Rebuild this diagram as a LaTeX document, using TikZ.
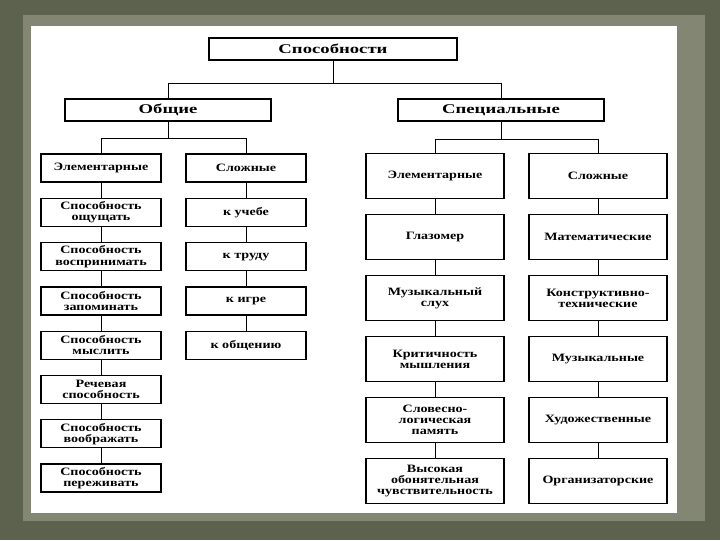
\documentclass[tikz,border=0pt]{standalone}
\usepackage{fontspec}
\setmainfont{Liberation Serif}
\newfontfamily\headfont[FakeStretch=1.4]{Liberation Serif}
\newfontfamily\boxfont[FakeStretch=1.25]{Liberation Serif}
\usetikzlibrary{calc}
\definecolor{bgolive}{RGB}{92,98,78}
\definecolor{bandolive}{RGB}{130,134,114}

\begin{document}
\begin{tikzpicture}[x=0.025cm, y=-0.025cm,
  box/.style={draw, line width=0.9pt, fill=white, align=center, inner sep=1pt,
    font=\boxfont\bfseries\fontsize{8}{8}\selectfont},
  lbox/.style={box, minimum width=3cm, minimum height=0.7cm},
  rbox/.style={box, minimum width=3.45cm, minimum height=1.12cm},
  head/.style={box, minimum height=0.55cm,
    font=\headfont\bfseries\fontsize{9.5}{10}\selectfont},
  link/.style={line width=0.6pt}]
  % --- background and page ---
  \fill[bgolive] (0,0) rectangle (720,540);
  \fill[bandolive] (23,15) rectangle (705,521);
  \fill[white] (31,26) rectangle (677,513);
  \useasboundingbox (0,0) rectangle (720,540);
  % --- top levels ---
  \node[head, minimum width=6.2cm]  (root) at (333,49)  {Способности};
  \node[head, minimum width=5.15cm] (gen)  at (168,110) {Общие};
  \node[head, minimum width=5.15cm] (spec) at (501,110) {Специальные};
  \draw[link] (root.south) -- ++(0,23) coordinate (rj) -| (gen.north);
  \draw[link] (rj) -| (spec.north);
  % --- general abilities ---
  \node[lbox] (le0) at (101,168) {Элементарные};
  \node[lbox] (lc0) at (246,168) {Сложные};
  \draw[link] (gen.south) -- ++(0,17) coordinate (gj) -| (le0.north);
  \draw[link] (gj) -| (lc0.north);
  \foreach \t [count=\i] in {{Способность\\ощущать},{Способность\\воспринимать},
      {Способность\\запоминать},{Способность\\мыслить},{Речевая\\способность},
      {Способность\\воображать},{Способность\\переживать}}
    \node[lbox] (le\i) at (101,168+44.3*\i) {\t};
  \foreach \t [count=\i] in {к учебе,к труду,к игре,к общению}
    \node[lbox] (lc\i) at (246,168+44.3*\i) {\t};
  % --- special abilities ---
  \node[rbox] (re0) at (435,176) {Элементарные};
  \node[rbox] (rc0) at (598,176) {Сложные};
  \draw[link] (spec.south) -- ++(0,18) coordinate (sj) -| (re0.north);
  \draw[link] (sj) -| (rc0.north);
  \foreach \t [count=\i] in {Глазомер,{Музыкальный\\слух},{Критичность\\мышления},
      {Словесно-\\логическая\\память},{Высокая\\обонятельная\\чувствительность}}
    \node[rbox] (re\i) at (435,176+61*\i) {\t};
  \foreach \t [count=\i] in {Математические,{Конструктивно-\\технические},
      Музыкальные,Художественные,Организаторские}
    \node[rbox] (rc\i) at (598,176+61*\i) {\t};
  % --- column chains ---
  \foreach \c/\n in {le/7,lc/4,re/5,rc/5}{
    \foreach \i in {1,...,\n}{
      \pgfmathtruncatemacro\j{\i-1}
      \draw[link] (\c\j.south) -- (\c\i.north);
    }
  }
\end{tikzpicture}
\end{document}
